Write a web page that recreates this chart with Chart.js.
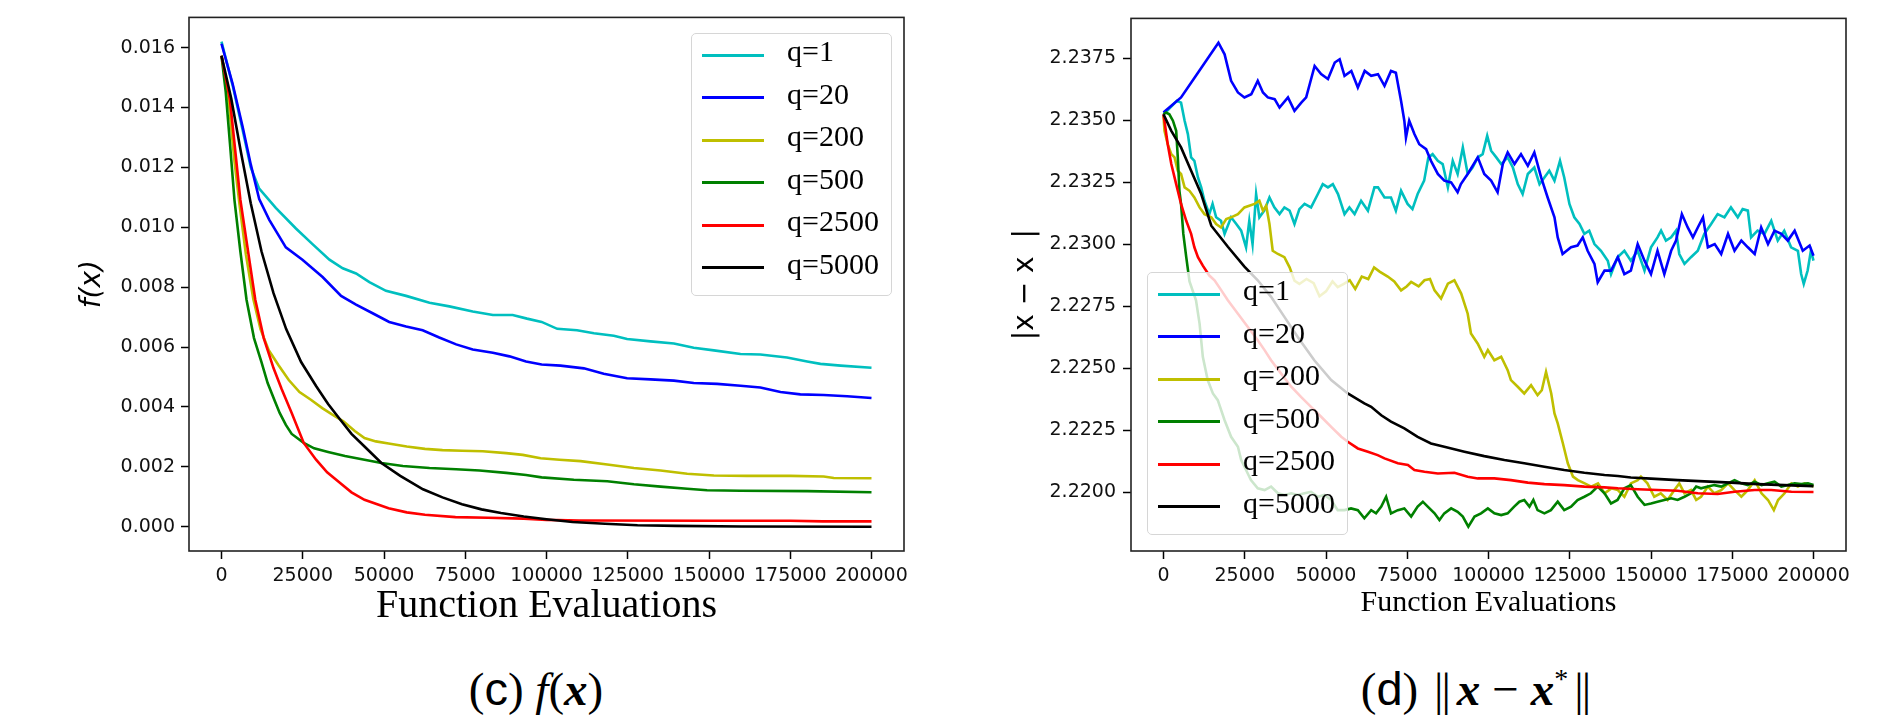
<!DOCTYPE html>
<html>
<head>
<meta charset="utf-8">
<script src="https://cdn.jsdelivr.net/npm/chart.js@4.4.1/dist/chart.umd.min.js"></script>
<style>
  body { margin: 0; background: #fff; }
  #wrap { position: relative; width: 1899px; height: 721px; overflow: hidden; background: #fff; }
  .box { position: absolute; top: 0; height: 640px; }
  .legend {
    position: absolute; box-sizing: border-box; width: 201px; height: 263px;
    background: rgba(255, 255, 255, 0.8); border: 1px solid #d6d6d6; border-radius: 5px;
  }
  .legend .row { position: relative; height: 42.5px; }
  .legend .swatch { position: absolute; left: 10px; top: 50%; width: 62px; height: 2.6px; margin-top: -1.3px; }
  .legend .lbl { position: absolute; left: 95px; top: 0; line-height: 42.5px; font: 30px "Liberation Serif"; color: #000; white-space: nowrap; }
  .cap { position: absolute; top: 665px; width: 500px; text-align: center; font: 47px "Liberation Serif"; line-height: 1; color: #000; white-space: nowrap; }
  .cap .sf { font-family: "Liberation Sans"; }
  .cap i { font-style: italic; }
  .cap b { font-weight: bold; font-style: italic; }
  .cap .nb { display: inline-block; letter-spacing: -2px; margin: 0 8px 0 4px; }
  .cap .op { display: inline-block; margin: 0 12px; }
</style>
</head>
<body>
<div id="wrap">
  <div class="box" style="left:0;width:950px"><canvas id="chartF"></canvas></div>
  <div class="box" style="left:950px;width:949px"><canvas id="chartD"></canvas></div>
  <div id="legF" class="legend" style="left:691px;top:33px"></div>
  <div id="legD" class="legend" style="left:1147px;top:272px"></div>
  <div class="cap" style="left:286px">(<span class="sf">c</span>) <i>f</i>(<b>x</b>)</div>
  <div class="cap" style="left:1225px">(<span class="sf">d</span>) <span class="nb">||</span><b>x</b><span class="op">−</span><b>x</b><sup style="font-size:28px">*</sup><span class="nb" style="margin:0 0 0 6px">||</span></div>
</div>
<script>
// Series labels and colours
const qLabels = ['q=1', 'q=20', 'q=200', 'q=500', 'q=2500', 'q=5000'];
const qColors = ['#00BFBF', '#0000FF', '#BFBF00', '#008000', '#FF0000', '#000000'];

// (c) f(x): [function evaluations, value]
const fQ1 = [[0,0.0162],[3400,0.01475],[6500,0.01325],[9000,0.0120],[11600,0.01129],[16700,0.01065],[22900,0.00996],[28000,0.00944],[33200,0.00892],[37300,0.00863],[41400,0.00846],[45500,0.00817],[50600,0.00788],[56800,0.00771],[64000,0.00748],[70100,0.00736],[77300,0.00719],[83500,0.00707],[89600,0.00707],[94000,0.00695],[98500,0.00684],[103300,0.00661],[109400,0.00656],[114600,0.00646],[120700,0.00638],[124800,0.00627],[132000,0.00619],[139200,0.00612],[145300,0.00598],[151500,0.00589],[159700,0.00577],[165800,0.00575],[174000,0.00565],[180200,0.00552],[184300,0.00544],[190500,0.00538],[200000,0.00531]];
const fQ20 = [[0,0.01613],[3400,0.0148],[6500,0.01336],[9000,0.0121],[11600,0.01094],[14700,0.01025],[19800,0.00933],[24900,0.00892],[31100,0.00834],[36800,0.00771],[41400,0.00742],[46500,0.00713],[51600,0.00684],[56800,0.00669],[61900,0.00656],[67000,0.00632],[72200,0.00609],[77300,0.00592],[83500,0.00581],[88600,0.00569],[93700,0.00552],[98500,0.00542],[104300,0.00538],[111500,0.00529],[117600,0.00511],[124800,0.00496],[132000,0.00492],[139200,0.00488],[145300,0.0048],[152500,0.00477],[159700,0.00471],[165800,0.00465],[172000,0.0045],[178100,0.00442],[185300,0.0044],[192500,0.00436],[200000,0.0043]];
const fQ200 = [[0,0.01573],[1200,0.0150],[2400,0.0140],[4000,0.0122],[5500,0.0108],[7500,0.0091],[9800,0.0076],[12000,0.0066],[14500,0.0059],[17500,0.0054],[20700,0.0049],[24000,0.0045],[27500,0.00424],[31000,0.00396],[34000,0.00375],[37500,0.00352],[41000,0.0032],[44000,0.00296],[47500,0.00285],[51400,0.00278],[57000,0.00268],[62600,0.0026],[68000,0.00256],[74000,0.00254],[80400,0.00252],[87600,0.00246],[92700,0.0024],[98200,0.00229],[104000,0.00224],[110500,0.00219],[118700,0.00208],[126900,0.00196],[135100,0.00188],[143300,0.00177],[151500,0.00171],[161700,0.0017],[175100,0.0017],[185300,0.00168],[188400,0.00163],[200000,0.00162]];
const fQ500 = [[0,0.01573],[1300,0.01452],[2600,0.0128],[4000,0.0109],[5800,0.0092],[7700,0.00758],[10000,0.0063],[12300,0.0055],[14200,0.0048],[16400,0.0042],[17900,0.0038],[19800,0.0034],[21600,0.0031],[25300,0.0028],[28500,0.00262],[32800,0.0025],[38000,0.00236],[44000,0.00224],[49200,0.00213],[55800,0.00203],[64000,0.00196],[72200,0.00192],[79400,0.00188],[87600,0.0018],[93700,0.00173],[98500,0.00165],[108400,0.00157],[118700,0.00152],[126900,0.00142],[135100,0.00134],[143300,0.00127],[149400,0.00122],[159700,0.0012],[180200,0.00119],[200000,0.00115]];
const fQ2500 = [[0,0.01573],[2600,0.01426],[5800,0.01092],[10400,0.00758],[13000,0.0063],[16000,0.0053],[18500,0.0046],[21600,0.0038],[25300,0.0028],[29100,0.00224],[32500,0.00182],[36500,0.00146],[40000,0.00115],[44000,0.0009],[51400,0.00062],[57000,0.00048],[62600,0.0004],[72000,0.00032],[82000,0.0003],[93000,0.00027],[100000,0.00023],[110000,0.00021],[150000,0.0002],[175000,0.0002],[185000,0.00018],[200000,0.00018]];
const fQ5000 = [[0,0.01573],[3000,0.0143],[6000,0.0125],[9000,0.0108],[12300,0.0092],[16000,0.0078],[19900,0.0066],[24500,0.0055],[29100,0.0047],[32800,0.0041],[36500,0.00358],[40000,0.0031],[44000,0.00268],[49200,0.00213],[55000,0.0017],[62000,0.00125],[68000,0.00098],[74000,0.00075],[80000,0.00058],[86000,0.00046],[93000,0.00034],[100000,0.00025],[108000,0.00016],[118000,0.0001],[128000,0.00005],[140000,0.00003],[160000,0.00001],[200000,0.0]];

// (d) ||x - x*||: [function evaluations, value]
const dQ1 = [[0,2.23525],[600,2.23532],[4100,2.23579],[5400,2.23572],[6500,2.23499],[7500,2.23445],[8500,2.23351],[9500,2.23337],[10600,2.2327],[11600,2.2323],[12600,2.23176],[14100,2.23122],[15100,2.23163],[16200,2.23109],[17700,2.23095],[18800,2.23042],[20800,2.23109],[22400,2.23082],[23900,2.23055],[25400,2.22988],[26400,2.23095],[27400,2.23001],[28500,2.23203],[29500,2.23109],[31000,2.23136],[32600,2.23189],[34100,2.23149],[35700,2.23122],[37200,2.23149],[38800,2.23136],[40300,2.23082],[41800,2.23142],[43400,2.23163],[45400,2.23149],[47500,2.23203],[49000,2.23243],[50600,2.2323],[52100,2.23243],[53700,2.23203],[55700,2.23122],[57200,2.23149],[58800,2.23122],[60800,2.23176],[62900,2.23136],[64900,2.2323],[66000,2.2323],[68000,2.23189],[70000,2.23189],[71500,2.23136],[73100,2.23216],[75100,2.23163],[76600,2.23142],[78200,2.23203],[80200,2.23257],[81500,2.23351],[82800,2.23364],[84400,2.23337],[85900,2.23324],[87500,2.2323],[89000,2.23337],[90500,2.23284],[92100,2.23391],[93600,2.23284],[95100,2.2331],[96700,2.23351],[98200,2.23364],[99600,2.23438],[100800,2.23378],[102400,2.23351],[103900,2.23324],[105900,2.23351],[107500,2.2331],[109000,2.23243],[110500,2.23203],[112100,2.23284],[114100,2.2331],[115700,2.23243],[117200,2.2327],[118700,2.23297],[120300,2.23257],[122000,2.23337],[123300,2.2327],[124900,2.23163],[126400,2.23109],[128000,2.23082],[129500,2.23042],[131000,2.23055],[132600,2.23001],[134600,2.22974],[136700,2.22934],[137700,2.2288],[139700,2.22948],[141800,2.22974],[143800,2.22934],[145900,2.22974],[148000,2.22894],[150000,2.22988],[152000,2.23028],[153100,2.23055],[154600,2.23015],[156200,2.23028],[157700,2.23055],[158700,2.22961],[160300,2.22921],[162300,2.22948],[164400,2.22974],[166400,2.23042],[168500,2.23082],[170500,2.23122],[172600,2.23109],[174600,2.23149],[176700,2.23109],[178200,2.23142],[179800,2.23136],[180800,2.23028],[182800,2.23055],[184900,2.23042],[187000,2.23095],[189000,2.23015],[191000,2.23055],[193100,2.22988],[195200,2.22974],[196200,2.2288],[197000,2.2284],[198200,2.22894],[199200,2.22974],[200000,2.22934]];
const dQ20 = [[0,2.23532],[600,2.23539],[5400,2.23593],[10600,2.23693],[16900,2.23814],[18800,2.23767],[20800,2.2366],[22900,2.23613],[24900,2.23593],[27000,2.23606],[29000,2.2366],[30600,2.23613],[32100,2.23593],[34200,2.23586],[35700,2.23552],[38300,2.23593],[40300,2.23539],[42400,2.23572],[43900,2.23593],[46500,2.2372],[48500,2.23687],[50600,2.23667],[52700,2.23734],[54200,2.23747],[55700,2.2368],[57800,2.237],[59800,2.23633],[61900,2.237],[63900,2.2368],[66000,2.23687],[68000,2.2364],[70000,2.237],[71500,2.23693],[73100,2.23579],[74100,2.23499],[74600,2.23431],[75600,2.23499],[77200,2.23445],[78700,2.23404],[80800,2.23384],[82300,2.23337],[84400,2.23284],[86400,2.23257],[88500,2.2325],[90500,2.2321],[91500,2.23243],[93600,2.23284],[96700,2.23351],[98700,2.23284],[100800,2.23257],[102800,2.2321],[104400,2.23324],[105900,2.23371],[108000,2.23324],[110000,2.23364],[112100,2.23317],[114100,2.23371],[116200,2.2327],[118200,2.23189],[120300,2.23109],[121300,2.23028],[122800,2.22961],[125400,2.22988],[127400,2.22995],[129000,2.23028],[130500,2.22974],[132600,2.22921],[133600,2.22847],[135700,2.22894],[137700,2.22894],[139800,2.22948],[141800,2.2288],[143800,2.22894],[145900,2.23001],[148000,2.22934],[150000,2.2288],[152000,2.22974],[154100,2.2288],[156200,2.22974],[157700,2.23015],[159500,2.23122],[161300,2.23068],[162900,2.23028],[164400,2.23068],[166000,2.23109],[167500,2.22988],[169600,2.23001],[171600,2.22961],[173700,2.23042],[175700,2.22974],[177800,2.23015],[179800,2.22988],[181900,2.22961],[183900,2.23068],[186000,2.23001],[188000,2.23055],[190100,2.23042],[192100,2.23015],[194200,2.23055],[196700,2.22974],[198800,2.22995],[200000,2.22954]];
const dQ200 = [[0,2.23519],[300,2.23458],[1300,2.23404],[2400,2.23364],[3400,2.23351],[4400,2.23297],[5400,2.23284],[6500,2.2323],[8000,2.23216],[9500,2.23189],[11100,2.23149],[12600,2.23122],[14700,2.23109],[16200,2.23082],[17700,2.23068],[19300,2.23102],[20800,2.23109],[22900,2.23122],[24900,2.23149],[26400,2.23156],[28000,2.23163],[29500,2.23176],[30600,2.23136],[31600,2.23156],[32600,2.23082],[33600,2.22974],[35200,2.22961],[37200,2.22948],[38800,2.22907],[40300,2.22853],[41800,2.2284],[44000,2.2286],[46200,2.22843],[48000,2.2279],[50000,2.2281],[52000,2.2285],[53600,2.22827],[55500,2.2284],[57300,2.22855],[59000,2.2282],[61000,2.2287],[63000,2.2286],[64800,2.22907],[66500,2.2289],[69000,2.2287],[71000,2.2285],[73100,2.22814],[74800,2.2283],[76200,2.22848],[78500,2.2283],[80300,2.22855],[82000,2.2286],[83400,2.22814],[85400,2.22781],[87500,2.22841],[89500,2.22855],[91600,2.22801],[93600,2.2272],[94600,2.2264],[96700,2.22599],[98700,2.22546],[99800,2.22573],[101800,2.22532],[103900,2.22546],[105900,2.22492],[106900,2.22452],[109000,2.22425],[111000,2.22398],[113100,2.22431],[115100,2.22391],[116400,2.22411],[117700,2.22485],[119300,2.22398],[120300,2.22317],[121300,2.22277],[122900,2.22196],[124400,2.22116],[126000,2.22062],[127500,2.22048],[129600,2.22035],[131600,2.22022],[133700,2.22035],[135700,2.21995],[137800,2.22015],[139800,2.22008],[141800,2.21981],[143800,2.22035],[145900,2.22048],[146900,2.22062],[148900,2.22035],[151000,2.21981],[153000,2.21995],[155100,2.21968],[157200,2.22008],[158700,2.22035],[160300,2.21995],[162300,2.22008],[163900,2.21968],[165400,2.21981],[167500,2.22022],[169500,2.21995],[171600,2.22008],[173700,2.22035],[175700,2.22008],[177800,2.21981],[179800,2.22008],[181900,2.22048],[184000,2.21995],[186000,2.21968],[187800,2.21927],[189100,2.21968],[191100,2.21995],[193200,2.22035],[195200,2.22022],[197300,2.22035],[200000,2.22022]];
const dQ500 = [[0,2.23525],[800,2.23532],[1800,2.23525],[2900,2.23499],[3900,2.23458],[4400,2.23351],[4900,2.23216],[5400,2.23163],[6100,2.23042],[7000,2.22948],[8000,2.2285],[10000,2.22774],[11100,2.2268],[12100,2.22546],[13600,2.22452],[15200,2.22398],[16700,2.22371],[18800,2.2229],[20800,2.22223],[22900,2.22183],[23900,2.22129],[25400,2.22089],[26900,2.22048],[29000,2.22015],[31100,2.22008],[33100,2.22022],[35200,2.21995],[37200,2.21988],[39300,2.21995],[41300,2.21988],[43400,2.21995],[45400,2.22001],[47500,2.21981],[49500,2.21988],[51600,2.21968],[53600,2.21927],[55700,2.21927],[57700,2.21934],[59800,2.21927],[61800,2.21894],[63900,2.21927],[65400,2.21914],[67000,2.21941],[68500,2.21981],[70000,2.21914],[72100,2.21927],[74100,2.21934],[76200,2.21901],[78200,2.21941],[79800,2.21961],[81300,2.21941],[83400,2.21914],[84900,2.21887],[86400,2.21914],[88500,2.21934],[90500,2.2192],[92100,2.21901],[93800,2.2186],[95700,2.21901],[97700,2.21914],[99800,2.21934],[101800,2.21914],[103900,2.21907],[105900,2.21914],[107900,2.21941],[109500,2.21961],[111000,2.21968],[112600,2.21941],[113800,2.21968],[115100,2.21927],[117200,2.21914],[119200,2.21927],[121300,2.21961],[123300,2.21927],[125400,2.21941],[127400,2.21968],[129500,2.21981],[131500,2.21995],[133600,2.22022],[135700,2.21995],[137700,2.21954],[139700,2.21968],[141800,2.22015],[143800,2.22028],[145900,2.21981],[148000,2.21948],[150000,2.21954],[152000,2.21961],[154100,2.21968],[156200,2.21975],[158200,2.21968],[160300,2.21981],[162300,2.21995],[163900,2.22022],[165400,2.22015],[167500,2.22022],[169500,2.22028],[171600,2.22022],[173700,2.22035],[175700,2.22048],[177800,2.22035],[179800,2.22028],[181900,2.22042],[184000,2.22028],[186000,2.22035],[188000,2.22042],[190100,2.22022],[192100,2.22028],[194200,2.22035],[196200,2.22032],[198300,2.22035],[200000,2.22028]];
const dQ2500 = [[0,2.23525],[1300,2.23404],[2400,2.23324],[3900,2.23243],[5400,2.23163],[7000,2.23095],[8500,2.23042],[9500,2.22988],[10600,2.22948],[12100,2.22914],[14100,2.22874],[15700,2.22855],[17800,2.22814],[19800,2.22774],[22900,2.2272],[25900,2.22667],[29000,2.22613],[31100,2.22573],[33100,2.22532],[36200,2.22478],[39300,2.22425],[42300,2.22384],[45400,2.22344],[48500,2.22304],[51600,2.22263],[54700,2.22223],[56700,2.22203],[59800,2.22176],[62900,2.22163],[65900,2.22149],[68000,2.22136],[72100,2.22116],[75200,2.22109],[77200,2.22089],[80300,2.22082],[84400,2.22075],[89500,2.22078],[93600,2.22062],[96700,2.22055],[101800,2.22055],[106900,2.22048],[112100,2.22038],[117200,2.22032],[123300,2.22028],[129500,2.22022],[135700,2.22019],[139800,2.22015],[145900,2.22011],[152000,2.22008],[158200,2.22005],[164400,2.21995],[170500,2.21992],[175700,2.22001],[181900,2.22008],[187000,2.22008],[193200,2.22001],[200000,2.22]];
const dQ5000 = [[0,2.23525],[2400,2.23458],[5400,2.23391],[8500,2.23297],[11600,2.23203],[14700,2.23075],[19800,2.2299],[24900,2.2291],[29000,2.22855],[33100,2.22788],[37200,2.22707],[41300,2.22626],[46400,2.22532],[51600,2.22452],[56700,2.22398],[61800,2.22358],[63900,2.22344],[67000,2.2231],[70000,2.22284],[74100,2.22257],[78200,2.22223],[82300,2.22196],[86400,2.22183],[92600,2.22163],[98700,2.22145],[104900,2.22129],[111000,2.22116],[117200,2.22102],[123300,2.22089],[129500,2.22078],[135700,2.22069],[139800,2.22065],[143800,2.22059],[150000,2.22054],[158200,2.22048],[166400,2.22043],[174600,2.22038],[182800,2.22032],[191000,2.22028],[200000,2.22024]];

// Axis ticks
const evalTicks = [0, 25000, 50000, 75000, 100000, 125000, 150000, 175000, 200000];

// Plugins
const frame = {
    id: 'frame',
    afterDatasetsDraw(chart) {
        const {ctx, chartArea: a} = chart;
        ctx.save();
        ctx.strokeStyle = '#222';
        ctx.lineWidth = 1.6;
        ctx.strokeRect(a.left, a.top, a.right - a.left, a.bottom - a.top);
        ctx.restore();
    }
};

const htmlLegend = {
    id: 'htmlLegend',
    afterUpdate(chart, args, opts) {
        const box = document.getElementById(opts.containerID);
        box.innerHTML = '';
        chart.data.datasets.forEach(ds => {
            const row = document.createElement('div');
            row.className = 'row';
            const sw = document.createElement('span');
            sw.className = 'swatch';
            sw.style.background = ds.borderColor;
            const lbl = document.createElement('span');
            lbl.className = 'lbl';
            lbl.textContent = ds.label;
            row.append(sw, lbl);
            box.append(row);
        });
    }
};

function makeDatasets(series) {
    return series.map((d, i) => ({
        label: qLabels[i],
        data: d,
        borderColor: qColors[i],
        backgroundColor: qColors[i],
        borderWidth: 2.6,
        pointRadius: 0,
        tension: 0,
        fill: false,
        order: series.length - 1 - i
    }));
}

function makeConfig(opt) {
    return {
        type: 'line',
        data: {datasets: makeDatasets(opt.series)},
        plugins: [frame, htmlLegend],
        options: {
            responsive: true,
            maintainAspectRatio: false,
            animation: false,
            devicePixelRatio: 1,
            layout: {padding: {top: 17, right: opt.padRight, left: 0, bottom: 0}},
            plugins: {
                legend: {display: false},
                tooltip: {enabled: false},
                htmlLegend: {containerID: opt.legend}
            },
            scales: {
                x: {
                    type: 'linear',
                    min: -10000,
                    max: 210000,
                    afterFit(s) { s.height = 89; },
                    afterBuildTicks(s) { s.ticks = evalTicks.map(v => ({value: v})); },
                    grid: {drawOnChartArea: false, drawTicks: true, tickLength: 8, tickColor: '#000', tickWidth: 1.5},
                    border: {display: false},
                    ticks: {
                        font: {family: 'DejaVu Sans', size: 19},
                        color: '#111',
                        padding: 6,
                        maxRotation: 0,
                        autoSkip: false,
                        callback: v => String(v)
                    },
                    title: {
                        display: true,
                        text: 'Function Evaluations',
                        font: {family: 'Liberation Serif', size: opt.xTitleSize, lineHeight: 1},
                        color: '#000',
                        padding: {top: 0, bottom: opt.xTitlePad}
                    }
                },
                y: {
                    min: opt.yMin,
                    max: opt.yMax,
                    afterFit(s) { s.width = opt.yWidth; },
                    afterBuildTicks(s) { s.ticks = opt.yTicks.map(v => ({value: v})); },
                    grid: {drawOnChartArea: false, drawTicks: true, tickLength: 8, tickColor: '#000', tickWidth: 1.5},
                    border: {display: false},
                    ticks: {
                        font: {family: 'DejaVu Sans', size: 19},
                        color: '#111',
                        padding: opt.yTickPad,
                        autoSkip: false,
                        callback: v => v.toFixed(opt.digits)
                    },
                    title: {
                        display: true,
                        text: opt.yTitle,
                        font: {family: 'DejaVu Sans', size: 28, style: opt.yTitleStyle, lineHeight: 1.2},
                        color: '#000',
                        padding: {top: opt.yTitlePad, bottom: 0}
                    }
                }
            }
        }
    };
}

const chartF = new Chart(document.getElementById('chartF'), makeConfig({
    series: [fQ1, fQ20, fQ200, fQ500, fQ2500, fQ5000],
    legend: 'legF',
    padRight: 46,
    yMin: -0.00081,
    yMax: 0.01701,
    yTicks: [0, 0.002, 0.004, 0.006, 0.008, 0.010, 0.012, 0.014, 0.016],
    digits: 3,
    yWidth: 189,
    yTickPad: 6,
    yTitle: 'f(x)',
    yTitleStyle: 'italic',
    yTitlePad: 76,
    xTitleSize: 40,
    xTitlePad: 14
}));

const chartD = new Chart(document.getElementById('chartD'), makeConfig({
    series: [dQ1, dQ20, dQ200, dQ500, dQ2500, dQ5000],
    legend: 'legD',
    padRight: 53,
    yMin: 2.21762,
    yMax: 2.23912,
    yTicks: [2.2200, 2.2225, 2.2250, 2.2275, 2.2300, 2.2325, 2.2350, 2.2375],
    digits: 4,
    yWidth: 181,
    yTickPad: 7,
    yTitle: '|x \u2212 x  |',
    yTitleStyle: 'normal',
    yTitlePad: 59,
    xTitleSize: 30,
    xTitlePad: 22
}));
</script>
</body>
</html>
